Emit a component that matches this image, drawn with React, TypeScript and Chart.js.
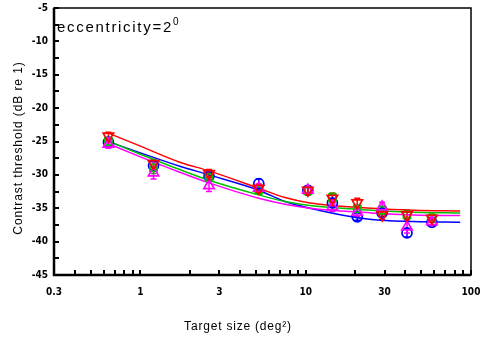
import { useEffect, useRef } from "react";
import { Chart, registerables } from "chart.js";

Chart.register(...registerables);

// Target sizes (deg^2) of the measured points
const sizes = [0.64, 1.2, 2.6, 5.2, 10.3, 14.5, 20.5, 29, 41, 58];
// Measured thresholds (dB re 1)
const blueVals = [-25.1, -28.6, -30.2, -31.3, -32.3, -34.2, -36.3, -35.7, -38.7, -37.1];
const greenVals = [-25.0, -28.9, -30.4, -32.3, -32.4, -33.4, -35.1, -35.3, -36.0, -36.5];
const magentaVals = [-25.4, -29.7, -31.6, -32.0, -32.3, -34.8, -35.6, -34.8, -37.8, -37.0];
const redVals = [-24.2, -28.3, -29.8, -32.0, -32.3, -33.5, -34.2, -36.0, -36.0, -36.5];
// Error bar half-lengths (dB)
const blueErr = [0.5, 0.6, 0.5, 0.7, 0.5, 0.6, 0.5, 0.5, 0.6, 0.5];
const greenErr = [0.6, 0.9, 0.6, 0.6, 0.6, 0.7, 0.5, 0.6, 0.7, 0.6];
const magentaErr = [0.6, 0.9, 0.9, 0.6, 0.6, 0.7, 0.6, 0.7, 0.9, 0.6];
const redErr = [0.6, 0.6, 0.6, 0.6, 0.6, 0.7, 0.7, 0.7, 0.6, 0.6];

// Fitted curves
const fitX = [0.62, 1.0, 1.73, 2.6, 5.2, 7.5, 10.6, 25, 45, 86];
const redFit = [-23.6, -25.7, -28.1, -29.4, -32.0, -33.4, -34.2, -35.0, -35.3, -35.4];
const blueFit = [-24.9, -26.7, -28.7, -30.0, -32.3, -34.0, -35.0, -36.7, -37.0, -37.1];
const greenFit = [-24.8, -26.9, -29.2, -30.8, -33.0, -34.0, -34.6, -35.3, -35.6, -35.7];
const magentaFit = [-25.2, -27.3, -29.6, -31.2, -33.5, -34.4, -35.0, -35.7, -36.0, -36.1];

const xTickValues = [
  0.3, 0.4, 0.5, 0.6, 0.7, 0.8, 0.9, 1, 2, 3, 4, 5, 6, 7, 8, 9, 10,
  20, 30, 40, 50, 60, 70, 80, 90, 100,
];
const xLabelled = [0.3, 1, 3, 10, 30, 100];
const yMinorStep = 2.5;

const titleText = "eccentricity=2";
const titleSup = "0";
const xTitle = "Target size (deg\u00b2)";
const yTitle = "Contrast threshold (dB re 1)";

const BLUE = "#0000ff";
const GREEN = "#00c000";
const MAGENTA = "#ff00ff";
const RED = "#ff0000";

const pts = (xs: number[], ys: number[]) => xs.map((x, i) => ({ x, y: ys[i] }));

const errorSets = [
  { vals: blueVals, err: blueErr, color: BLUE },
  { vals: greenVals, err: greenErr, color: GREEN },
  { vals: magentaVals, err: magentaErr, color: MAGENTA },
  { vals: redVals, err: redErr, color: RED },
];

const zeroPad = (s: any) => {
  s.paddingLeft = 0;
  s.paddingRight = 0;
  s.paddingTop = 0;
  s.paddingBottom = 0;
};

const decorPlugin = {
  id: "decor",
  beforeDatasetsDraw(chart: any) {
    const { ctx, scales } = chart;
    const xs = scales.x;
    const ys = scales.y;
    ctx.save();
    ctx.lineWidth = 1.5;
    for (const s of errorSets) {
      ctx.strokeStyle = s.color;
      sizes.forEach((sz, i) => {
        const px = xs.getPixelForValue(sz);
        const y1 = ys.getPixelForValue(s.vals[i] + s.err[i]);
        const y2 = ys.getPixelForValue(s.vals[i] - s.err[i]);
        ctx.beginPath();
        ctx.moveTo(px, y1);
        ctx.lineTo(px, y2);
        ctx.moveTo(px - 3, y1);
        ctx.lineTo(px + 3, y1);
        ctx.moveTo(px - 3, y2);
        ctx.lineTo(px + 3, y2);
        ctx.stroke();
      });
    }
    ctx.restore();
  },
  afterDraw(chart: any) {
    const { ctx, chartArea: a, scales } = chart;
    const xs = scales.x;
    const ys = scales.y;
    ctx.save();
    ctx.strokeStyle = "#000";
    ctx.lineWidth = 1.5;
    ctx.strokeRect(a.left, a.top, a.right - a.left, a.bottom - a.top);
    ctx.lineWidth = 2.5;
    ctx.beginPath();
    ctx.moveTo(a.left, a.top);
    ctx.lineTo(a.left, a.bottom);
    ctx.lineTo(a.right, a.bottom);
    ctx.stroke();
    ctx.lineWidth = 2;
    ctx.beginPath();
    for (const v of xTickValues) {
      const px = Math.round(xs.getPixelForValue(v));
      ctx.moveTo(px, a.bottom);
      ctx.lineTo(px, a.bottom - 5);
    }
    for (let v = ys.min; v <= ys.max + 1e-6; v += yMinorStep) {
      const py = Math.round(ys.getPixelForValue(v));
      ctx.moveTo(a.left, py);
      ctx.lineTo(a.left + 5, py);
    }
    ctx.stroke();
    ctx.fillStyle = "#000";
    ctx.textBaseline = "alphabetic";
    ctx.textAlign = "left";
    ctx.font = "15px 'Liberation Sans', Arial, sans-serif";
    (ctx as any).letterSpacing = "1.7px";
    ctx.fillText(titleText, a.left + 3, 32);
    const w = ctx.measureText(titleText).width;
    ctx.font = "10px 'Liberation Sans', Arial, sans-serif";
    (ctx as any).letterSpacing = "0px";
    ctx.fillText(titleSup, a.left + 3 + w, 25);
    ctx.font = "12px 'Liberation Sans', Arial, sans-serif";
    (ctx as any).letterSpacing = "0.8px";
    ctx.textAlign = "center";
    ctx.fillText(xTitle, 238, 330);
    ctx.translate(22, 148);
    ctx.rotate(-Math.PI / 2);
    (ctx as any).letterSpacing = "0.9px";
    ctx.fillText(yTitle, 0, 0);
    ctx.restore();
  },
};

export default function App() {
  const ref = useRef<HTMLCanvasElement | null>(null);
  useEffect(() => {
    if (!ref.current) return;
    const tickFont = {
      family: "'Liberation Sans Narrow', 'DejaVu Sans Condensed', Arial, sans-serif",
      size: 10,
      weight: "bold" as const,
    };
    const line = (ys: number[], color: string, order: number) =>
      ({
        type: "line",
        data: pts(fitX, ys),
        borderColor: color,
        borderWidth: 1.5,
        pointRadius: 0,
        cubicInterpolationMode: "monotone",
        showLine: true,
        fill: false,
        order,
      }) as any;
    const marks = (ys: number[], color: string, style: string, r: number, order: number, rotation = 0) =>
      ({
        data: pts(sizes, ys),
        pointStyle: style,
        pointRadius: r,
        rotation,
        borderColor: color,
        backgroundColor: "rgba(0,0,0,0)",
        pointBorderWidth: 1.7,
        showLine: false,
        order,
      }) as any;
    const chart = new Chart(ref.current, {
      type: "scatter",
      data: {
        datasets: [
          line(blueFit, BLUE, 7),
          line(greenFit, GREEN, 6),
          line(magentaFit, MAGENTA, 5),
          line(redFit, RED, 4),
          marks(blueVals, BLUE, "circle", 5, 3),
          marks(greenVals, GREEN, "rect", 5, 2),
          marks(magentaVals, MAGENTA, "triangle", 6, 1),
          marks(redVals, RED, "triangle", 6, 0, 180),
        ],
      },
      options: {
        responsive: false,
        animation: false,
        events: [],
        layout: { padding: { top: 8, right: 10, left: 0, bottom: 0 } },
        plugins: { legend: { display: false }, tooltip: { enabled: false } },
        scales: {
          x: {
            type: "logarithmic",
            min: 0.3,
            max: 100,
            grid: { display: false, drawTicks: false },
            border: { display: false },
            afterBuildTicks: (s: any) => {
              s.ticks = xTickValues.map((v) => ({ value: v }));
            },
            afterFit: (s: any) => {
              s.height = 65;
              zeroPad(s);
            },
            ticks: {
              autoSkip: false,
              maxRotation: 0,
              padding: 11,
              color: "#000",
              font: tickFont,
              callback: (v: any) => (xLabelled.includes(Number(v)) ? String(v) : ""),
            },
          },
          y: {
            type: "linear",
            min: -45,
            max: -5,
            grid: { display: false, drawTicks: false },
            border: { display: false },
            afterFit: (s: any) => {
              s.width = 54;
              zeroPad(s);
            },
            ticks: {
              stepSize: 5,
              padding: 6,
              color: "#000",
              font: tickFont,
            },
          },
        },
      },
      plugins: [decorPlugin],
    });
    return () => chart.destroy();
  }, []);
  return (
    <div style={{ position: "fixed", left: 0, top: 0, width: 481, height: 340, background: "#fff" }}>
      <canvas ref={ref} width={481} height={340} />
    </div>
  );
}
